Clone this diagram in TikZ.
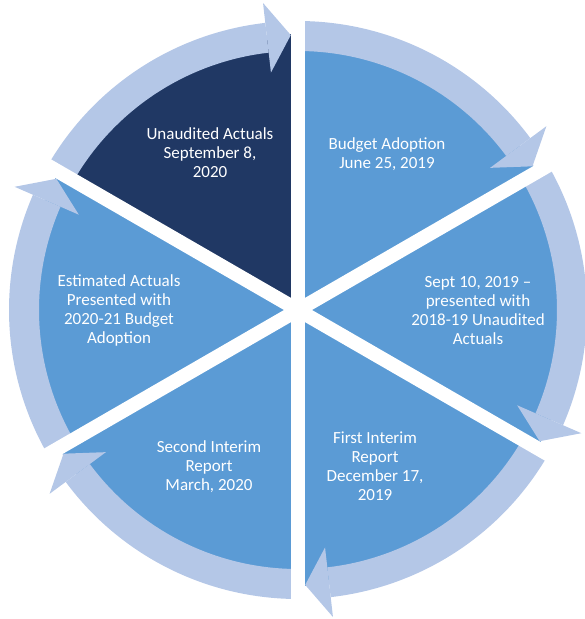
\documentclass[tikz,border=0pt]{standalone}
\usepackage{fontspec}
\setmainfont{Carlito}
\definecolor{navy}{HTML}{203864}
\definecolor{midblue}{HTML}{5B9BD5}
\definecolor{lightband}{HTML}{B4C7E7}
\begin{document}
\begin{tikzpicture}[x=1pt,y=1pt,
  lbl/.style={text=white, align=center, font=\fontsize{17}{19}\selectfont, inner sep=0pt},
  band/.style={fill=lightband},
  gapline/.style={draw=white, line width=14pt}]
\useasboundingbox (-298,-309) rectangle (287,310);
\clip (-298,-309) rectangle (287,310);
\def\Rin{259}\def\Rout{289}\def\Rw{276}\def\Rm{275}\def\Dl{6.5}
\foreach \s/\col in {150/navy,90/midblue,30/midblue,-30/midblue,-90/midblue,-150/midblue}{
  \pgfmathsetmacro\myE{\s-60}
  \pgfmathsetmacro\myB{\myE+\Dl}
  \pgfmathsetmacro\myT{\myE+1.5}
  \fill[\col] (0,0) -- (\s:\Rw) arc[start angle=\s, end angle=\myE, radius=\Rw] -- cycle;
  \fill[band] (\s:\Rout) arc[start angle=\s, end angle=\myB, radius=\Rout]
     -- (\myB:\Rin) arc[start angle=\myB, end angle=\s, radius=\Rin] -- cycle;
  \fill[band] (\myB:309) -- (\myT:\Rm) -- (\myB:239) -- cycle;
}
\foreach \a in {90,30,-30,-90,-150,150} \draw[gapline] (0,0) -- (\a:340);
\node[lbl] (ua) at (-88,157.5) {Unaudited Actuals\\September 8,\\2020};
\node[lbl] (ba) at (89,156) {Budget Adoption\\June 25, 2019};
\node[lbl] (sp) at (180,-0.5) {Sept 10, 2019 –\\presented with\\2018-19 Unaudited\\Actuals};
\node[lbl] (fi) at (77,-156.5) {First Interim\\Report\\December 17,\\2019};
\node[lbl] (si) at (-89,-156.5) {Second Interim\\Report\\March, 2020};
\node[lbl] (ea) at (-179,-0.5) {Estimated Actuals\\Presented with\\2020-21 Budget\\Adoption};
\end{tikzpicture}
\end{document}
